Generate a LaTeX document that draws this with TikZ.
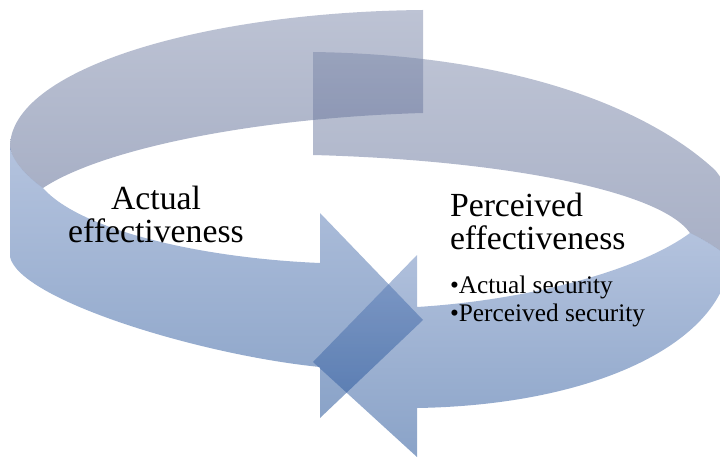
\documentclass[tikz,border=0pt]{standalone}
\usepackage{fontspec}
\setmainfont{Liberation Serif}
\usetikzlibrary{positioning}

\definecolor{backtop}{RGB}{123,135,169}
\definecolor{backbottom}{RGB}{81,97,141}
\definecolor{fronttop}{RGB}{105,135,189}
\definecolor{frontbottom}{RGB}{21,71,145}

\begin{document}
\begin{tikzpicture}[x=0.025cm,y=-0.025cm]
\tikzstyle{every node}=[inner sep=0pt, outer sep=0pt, text=black]
\tikzstyle{back part}=[fill opacity=0.5, top color=backtop, bottom color=backbottom]
\tikzstyle{front part}=[fill opacity=0.5, top color=fronttop, bottom color=frontbottom]
\tikzstyle{big label}=[font=\fontsize{24}{23}\selectfont]
\tikzstyle{small label}=[font=\fontsize{18}{20}\selectfont]

\useasboundingbox (0,0) rectangle (720,458);
\clip (0,0) rectangle (720,458);

% Draw the back part of the left arrow
\shade[back part] (423,10) -- (423,113) .. controls (250,118) and (100,150) .. (43,188)
  .. controls (25,175) and (12,160) .. (10,147)
  .. controls (10,70) and (200,12) .. (423,10) -- cycle;

% Draw the front part of the left arrow
\shade[front part] (10,147) .. controls (12,160) and (25,175) .. (43,188)
  .. controls (80,230) and (200,258) .. (320,263) -- (320,213) -- (423,320)
  -- (320,418) -- (320,367) .. controls (200,355) and (20,300) .. (10,257) -- cycle;

% Draw the back part of the right arrow
\shade[back part] (313,52) -- (313,155) .. controls (500,160) and (660,190) .. (690,233)
  .. controls (705,240) and (720,250) .. (730,258)
  .. controls (735,240) and (740,200) .. (715,170)
  .. controls (650,110) and (520,55) .. (313,52) -- cycle;

% Draw the front part of the right arrow
\shade[front part] (690,233) .. controls (705,240) and (720,250) .. (730,258)
  .. controls (725,340) and (600,405) .. (417,408) -- (417,457) -- (313,362)
  -- (417,255) -- (417,307) .. controls (530,300) and (640,270) .. (690,233) -- cycle;

% Draw the labels
\node[big label, align=center, anchor=base] (actual) at (156,242) {Actual\\effectiveness};
\node[big label, align=left, anchor=base west] (perceived) at (450,249) {Perceived\\effectiveness};
\node[small label, align=left, below=19pt of perceived.south west, anchor=north west] (security)
  {\textbullet Actual security\\\textbullet Perceived security};

\end{tikzpicture}
\end{document}
